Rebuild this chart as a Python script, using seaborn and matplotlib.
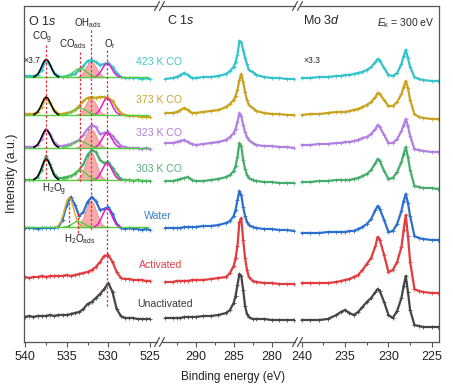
import numpy as np
import matplotlib
matplotlib.use('Agg')
import matplotlib.pyplot as plt
import seaborn as sns
from matplotlib.lines import Line2D

# ---- data (intensity in arbitrary, stacked units) ----
names = ['423 K CO', '373 K CO', '323 K CO', '303 K CO', 'Water', 'Activated', 'Unactivated']
line_colors = ['#33c4cb', '#c9a31f', '#b17fe2', '#44ad6b', '#2b6fcf', '#e23b40', '#454545']
text_colors = ['#45c6d2', '#c9a335', '#b07ed8', '#55b276', '#3c7fc8', '#e0434a', '#3a3a3a']

# O 1s
o_energy = [540, 539.5, 539, 538.5, 538, 537.5, 537, 536.5, 536, 535.5, 535, 534.5, 534,
            533.5, 533, 532.5, 532, 531.5, 531, 530.5, 530, 529.5, 529, 528.5, 528, 527.5,
            527, 526.5, 526, 525.5, 525]
o_423 = [266, 266, 266, 267, 272, 282, 277, 269, 266, 265, 266, 267, 268, 272, 276, 281,
         282, 280, 277, 278, 279, 275, 269, 265, 264, 264, 264, 264, 263, 264, 263]
o_373 = [228, 228, 228, 230, 235, 245, 239, 232, 228, 228, 229, 230, 232, 236, 241, 244,
         245, 244, 245, 245, 244, 241, 234, 229, 227, 226, 226, 226, 225, 225, 225]
o_323 = [195, 195, 195, 197, 203, 213, 208, 200, 196, 196, 197, 198, 200, 202, 207, 213,
         217, 215, 208, 209, 210, 206, 201, 196, 195, 194, 194, 194, 193, 194, 193]
o_303 = [162, 162, 162, 165, 172, 186, 178, 168, 164, 164, 165, 166, 168, 172, 178, 187,
         192, 190, 182, 179, 180, 174, 168, 163, 162, 162, 161, 162, 161, 161, 161]
o_water = [114, 114, 114, 113, 114, 114, 114, 114, 115, 122, 137, 145, 137, 126, 130, 140,
           145, 141, 132, 133, 135, 128, 118, 114, 113, 114, 113, 113, 112, 113, 112]
o_act = [65, 64, 65, 65, 66, 65, 66, 66, 66, 66, 67, 66, 67, 68, 69, 70,
         72, 75, 80, 86, 87, 80, 70, 64, 63, 63, 62, 62, 62, 61, 61]
o_unact = [25, 26, 25, 26, 26, 26, 27, 26, 27, 27, 27, 28, 29, 30, 33, 38,
           40, 44, 48, 53, 59, 50, 33, 26, 24, 24, 24, 23, 23, 23, 23]

# C 1s
c_energy = [294, 293, 292.5, 292, 291.5, 291, 290.5, 290, 289, 288, 287, 286, 285.5, 285,
            284.75, 284.5, 284.25, 284, 283.75, 283.5, 283.25, 283, 282.5, 282, 281, 280,
            279, 278, 277]
c_423 = [263, 264, 265, 267, 269, 267, 264, 264, 265, 265, 266, 268, 271, 275, 280,
         287, 301, 300, 292, 284, 278, 272, 270, 267, 265, 264, 264, 263, 263]
c_373 = [229, 229, 230, 232, 234, 232, 229, 229, 230, 231, 232, 235, 238, 242, 246,
         252, 262, 268, 260, 250, 242, 237, 234, 231, 229, 228, 228, 227, 227]
c_323 = [199, 199, 200, 201, 202, 200, 198, 197, 198, 199, 200, 202, 205, 209, 213,
         220, 229, 226, 217, 210, 205, 202, 199, 197, 196, 196, 195, 195, 194]
c_303 = [161, 161, 162, 163, 164, 165, 162, 161, 161, 162, 163, 165, 167, 171, 176,
         185, 199, 196, 182, 173, 167, 164, 162, 161, 160, 160, 159, 159, 159]
c_water = [114, 114, 114, 114, 115, 115, 115, 115, 116, 116, 117, 119, 121, 126, 132,
           142, 151, 147, 135, 126, 120, 117, 115, 114, 113, 113, 112, 112, 111]
c_act = [60, 60, 61, 61, 61, 61, 62, 62, 62, 63, 64, 65, 69, 76, 84,
         96, 120, 124, 102, 84, 72, 65, 61, 60, 59, 59, 58, 58, 58]
c_unact = [24, 24, 24, 24, 25, 25, 25, 25, 26, 26, 27, 29, 32, 39, 46,
           57, 68, 66, 52, 36, 28, 25, 23, 23, 23, 22, 22, 22, 22]

# Mo 3d
mo_energy = [240, 239, 238, 237, 236, 235.5, 235, 234.5, 234, 233.5, 233, 232.5, 232,
             231.5, 231.25, 231, 230.5, 230, 229.5, 229, 228.5, 228.25, 228, 227.75,
             227.5, 227, 226.5, 226, 225, 224.3]
mo_423 = [264, 264, 265, 265, 266, 266, 267, 267, 268, 269, 270, 272, 275, 280, 283,
          281, 274, 267, 266, 269, 278, 286, 292, 284, 275, 265, 263, 262, 261, 261]
mo_373 = [227, 228, 228, 229, 230, 230, 230, 231, 232, 233, 235, 237, 240, 245, 249,
          248, 242, 236, 236, 240, 248, 255, 261, 254, 242, 228, 225, 224, 223, 223]
mo_323 = [197, 197, 198, 198, 199, 199, 200, 200, 201, 202, 204, 205, 208, 213, 217,
          215, 207, 199, 199, 203, 211, 217, 223, 216, 206, 193, 192, 191, 190, 190]
mo_303 = [160, 160, 161, 161, 162, 162, 162, 162, 163, 164, 166, 168, 172, 179, 183,
          181, 171, 163, 164, 170, 180, 188, 195, 185, 172, 156, 155, 154, 154, 153]
mo_water = [109, 109, 109, 110, 110, 110, 110, 111, 111, 113, 115, 118, 123, 132, 136,
            133, 122, 110, 111, 118, 131, 141, 148, 139, 126, 106, 104, 103, 102, 102]
mo_act = [59, 59, 59, 59, 60, 61, 62, 63, 65, 67, 72, 78, 84, 96, 105,
          102, 87, 70, 72, 80, 95, 112, 127, 106, 80, 53, 51, 50, 49, 49]
mo_unact = [22, 22, 22, 23, 27, 30, 32, 29, 27, 30, 35, 40, 44, 50, 53,
            51, 40, 27, 24, 31, 44, 56, 66, 50, 32, 17, 16, 15, 15, 15]

# O 1s peak fits (first five spectra): shared line-shape, per-spectrum baseline/heights
fit_offsets = [-1.5, -1.25, -1.0, -0.75, -0.5, -0.25, 0, 0.25, 0.5, 0.75, 1.0, 1.25, 1.5]
fit_profile = [0.02, 0.08, 0.19, 0.40, 0.66, 0.90, 1.0, 0.90, 0.66, 0.40, 0.19, 0.08, 0.02]
fit_base = [264.7, 227, 194.3, 162, 114.7]
co_g_height = [18, 18, 18, 21]
co_ads_height = [9, 7, 7, 10]
oh_ads_height = [16, 17, 19, 28, 27]
o_r_height = [14, 17, 15, 17, 19]
h2o_g_height = 30
h2o_ads_height = 6
pos_co_g, pos_co_ads, pos_oh, pos_or = 537.45, 533.4, 532.1, 530.15
pos_h2o_g, pos_h2o_ads = 534.7, 533.6

# ---- style ----
sns.set_style('ticks')
plt.rcParams['font.family'] = ['Liberation Sans', 'DejaVu Sans']
plt.rcParams['mathtext.fontset'] = 'custom'
plt.rcParams['mathtext.rm'] = 'Liberation Sans'
plt.rcParams['mathtext.it'] = 'Liberation Sans:italic'
spine_c = '#555555'

W, H = 453, 384
fig = plt.figure(figsize=(W / 100, H / 100), dpi=100)


def box(x0, x1):
    return [x0 / W, 42 / H, (x1 - x0) / W, 336 / H]


ax_o = fig.add_axes(box(24, 157))
ax_c = fig.add_axes(box(162, 295))
ax_m = fig.add_axes(box(300, 439))

panels = [
    (ax_o, o_energy, [o_423, o_373, o_323, o_303, o_water, o_act, o_unact], (540.12, 524.16),
     [540, 535, 530, 525], [537.5, 532.5, 527.5]),
    (ax_c, c_energy, [c_423, c_373, c_323, c_303, c_water, c_act, c_unact], (294.43, 276.93),
     [290, 285, 280], [292.5, 287.5, 282.5]),
    (ax_m, mo_energy, [mo_423, mo_373, mo_323, mo_303, mo_water, mo_act, mo_unact], (240.2, 224.17),
     [240, 235, 230, 225], [237.5, 232.5, 227.5]),
]

for ax, energy, spectra, xlim, major, minor in panels:
    ax.set_facecolor('none')
    for vals, col in zip(spectra, line_colors):
        sns.lineplot(x=energy, y=vals, ax=ax, color=col, lw=1.6, marker='+', ms=2.2,
                     markeredgewidth=0.6, markeredgecolor=col, legend=False, zorder=2)
    ax.set_xlim(*xlim)
    ax.set_ylim(0, 336)
    ax.set_yticks([])
    ax.set_xticks(major)
    ax.set_xticklabels([str(t) for t in major])
    ax.set_xticks(minor, minor=True)
    ax.tick_params(axis='x', which='major', direction='out', length=3.3, width=0.8,
                   color=spine_c, labelsize=9, labelcolor='#222222', pad=3)
    ax.tick_params(axis='x', which='minor', direction='out', length=2, width=0.8, color=spine_c)
    ax.set_xlabel('')
    ax.set_ylabel('')
    for s in ax.spines.values():
        s.set_color(spine_c)
        s.set_linewidth(0.9)

ax_o.spines['right'].set_visible(False)
ax_c.spines['left'].set_visible(False)
ax_c.spines['right'].set_visible(False)
ax_m.spines['left'].set_visible(False)

# ---- O 1s fit components ----
offs = np.array(fit_offsets)
prof = np.array(fit_profile)


def comp(center, width, base, height):
    return center + offs * width, base + prof * height


for i, base in enumerate(fit_base):
    ax_o.plot([540, 525.3], [base, base], color='#52d03c', lw=1.0, zorder=3)
    xs, ys = comp(pos_oh, 1.15, base, oh_ads_height[i])
    ax_o.fill_between(xs, base, ys, color='#f6a3a3', alpha=0.9, lw=0.6,
                      edgecolor='#f07f7f', zorder=1.5)
    xs, ys = comp(pos_or, 1.05, base, o_r_height[i])
    ax_o.plot(xs, ys, color='#e21ed0', lw=1.1, zorder=3)
    if i < 4:
        xs, ys = comp(pos_co_g, 1.0, base, co_g_height[i])
        ax_o.plot(xs, ys, color='black', lw=1.1, zorder=3)
        xs, ys = comp(pos_co_ads, 1.4, base, co_ads_height[i])
        ax_o.plot(xs, ys, color='#52d03c', lw=1.0, zorder=3)
    else:
        xs, ys = comp(pos_h2o_g, 1.0, base, h2o_g_height)
        ax_o.plot(xs, ys, color='#d9b43a', lw=1.1, zorder=3)
        xs, ys = comp(pos_h2o_ads, 1.2, base, h2o_ads_height)
        ax_o.plot(xs, ys, color='#52d03c', lw=1.0, zorder=3)

# dashed guide lines
dash = dict(color='#e2303a', lw=0.9, ls=(0, (2, 1.5)), zorder=4)
ax_o.plot([pos_co_g, pos_co_g], [297, 162], **dash)
ax_o.plot([pos_co_ads, pos_co_ads], [290, 159], **dash)
ax_o.plot([pos_oh, pos_oh], [312, 112], **dash)
ax_o.plot([pos_or, pos_or], [292, 35], **dash)
ax_o.plot([pos_h2o_g, pos_h2o_g], [144, 115], **dash)
ax_o.plot([pos_h2o_ads, pos_h2o_ads], [129, 107], **dash)

# peak labels
lab = dict(fontsize=7, color='#222222', ha='left', va='baseline')
ax_o.text(539.1, 302, r'CO$_\mathrm{g}$', **lab)
ax_o.text(535.9, 295, r'CO$_\mathrm{ads}$', **lab)
ax_o.text(534.1, 316, r'OH$_\mathrm{ads}$', **lab)
ax_o.text(530.5, 295, r'O$_\mathrm{r}$', **lab)
ax_o.text(537.9, 150, r'H$_2$O$_\mathrm{g}$', **lab)
ax_o.text(535.3, 100, r'H$_2$O$_\mathrm{ads}$', **lab)
ax_o.text(539.2, 279, '×3.7', fontsize=6.2, color='#222222', ha='center', va='baseline')
ax_m.text(239.85, 279, '×3.3', fontsize=6.2, color='#222222', ha='left', va='baseline')

# panel titles
ax_o.text(539.64, 317, r'O 1$\mathit{s}$', fontsize=9, ha='left', va='baseline')
ax_c.text(293.78, 317.5, r'C 1$\mathit{s}$', fontsize=9, ha='left', va='baseline')
ax_m.text(239.85, 318, r'Mo 3$\mathit{d}$', fontsize=9, ha='left', va='baseline')
ax_m.text(224.63, 316, r'$E_\mathrm{k}$ = 300 eV', fontsize=7.5, ha='right', va='baseline')

# spectrum labels (pixel centres)
label_px = [(158.5, 62), (158.5, 100), (158.5, 133), (158.5, 169), (158, 216), (161, 265), (164.5, 304)]
for name, col, (px, py) in zip(names, text_colors, label_px):
    fig.text(px / W, 1 - py / H, name, color=col, fontsize=7.6, ha='center', va='center')

fig.text(12 / W, 1 - 173 / H, 'Intensity (a.u.)', rotation=90, ha='center', va='center',
         fontsize=9, color='#222222')
fig.text(233 / W, 1 - 377 / H, 'Binding energy (eV)', ha='center', va='center',
         fontsize=8.5, color='#222222')

# axis-break marks
for bx in [157, 162, 295, 300]:
    for by in [342, 6]:
        fig.add_artist(Line2D([(bx - 2.5) / W, (bx + 2.5) / W],
                              [1 - (by + 4.5) / H, 1 - (by - 4.5) / H],
                              color=spine_c, lw=0.9))

fig.savefig('out.png', dpi=100)
